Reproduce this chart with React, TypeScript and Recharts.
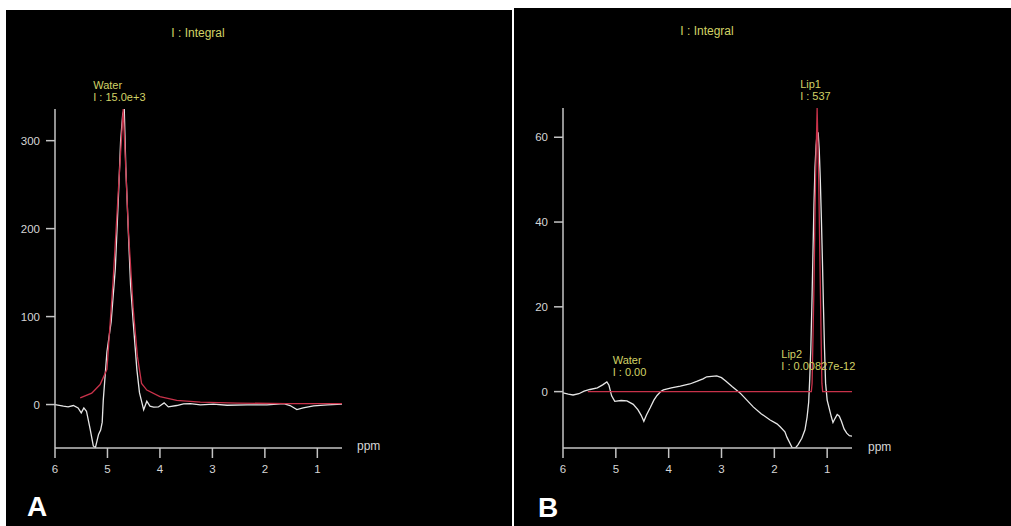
import React from 'react';
import { LineChart, Line, XAxis, YAxis, ReferenceDot, Label } from 'recharts';

// ---------- shared ----------
const ppmTicks = [6, 5, 4, 3, 2, 1];
const titleText = 'I : Integral';

// ---------- panel A ----------
const aYTicks = [0, 100, 200, 300];
const aSpecPpm = [6.0, 5.84, 5.75, 5.65, 5.56, 5.5, 5.45, 5.4, 5.33, 5.27, 5.23, 5.17, 5.13, 5.1, 5.08, 5.01, 4.93, 4.85, 4.79, 4.75, 4.71, 4.68, 4.65, 4.6, 4.56, 4.51, 4.44, 4.39, 4.31, 4.25, 4.19, 4.12, 4.03, 3.92, 3.84, 3.68, 3.55, 3.42, 3.23, 2.98, 2.72, 2.34, 1.96, 1.64, 1.52, 1.39, 1.27, 1.07, 0.81, 0.53];
const aSpecVal = [0, -1.9, -2.7, -1.1, -3.8, -9.5, -3.8, -7.6, -28, -47, -49, -34, -29, -20, 5, 60, 94, 155, 238, 299, 330, 336, 269, 193, 136, 94, 40, 13.5, -6, 3.8, -1.9, -3, -2.7, 1.9, -2.7, -1.1, 0.8, 1.1, -0.4, 0.4, -0.8, -0.4, -0.4, 1.1, -1.1, -5.7, -3.8, -1.5, -0.4, 0.4];
const aFitPpm = [5.52, 5.3, 5.14, 5.01, 4.89, 4.79, 4.7, 4.6, 4.51, 4.43, 4.35, 4.25, 4.0, 3.68, 3.23, 2.53, 1.58, 0.53];
const aFitVal = [7.5, 13, 22.7, 40, 143, 246, 336, 197, 109, 55, 24, 16.5, 9, 4.8, 2.8, 1.7, 1, 1];
const aPeak = { ppm: 4.7, value: 336, name: 'Water', integral: 'I : 15.0e+3' };

// ---------- panel B ----------
const bYTicks = [0, 20, 40, 60];
const bSpecPpm = [6.0, 5.9, 5.81, 5.7, 5.6, 5.49, 5.35, 5.25, 5.17, 5.13, 5.08, 5.02, 4.9, 4.79, 4.67, 4.58, 4.52, 4.47, 4.42, 4.35, 4.28, 4.22, 4.15, 4.1, 3.95, 3.78, 3.6, 3.47, 3.35, 3.28, 3.09, 3.0, 2.92, 2.8, 2.65, 2.52, 2.4, 2.25, 2.08, 1.95, 1.89, 1.8, 1.76, 1.7, 1.66, 1.6, 1.55, 1.48, 1.42, 1.38, 1.35, 1.33, 1.31, 1.29, 1.27, 1.25, 1.23, 1.21, 1.19, 1.17, 1.15, 1.13, 1.11, 1.09, 1.07, 1.05, 1.03, 1.0, 0.96, 0.92, 0.89, 0.85, 0.81, 0.77, 0.73, 0.68, 0.63, 0.58, 0.53];
const bSpecVal = [-0.3, -0.6, -0.8, -0.5, 0.1, 0.5, 0.9, 1.6, 2.3, 1.5, -1, -2.3, -2.1, -2.2, -3, -4.3, -5.6, -7, -5.5, -3.8, -2, -0.9, 0, 0.4, 0.9, 1.3, 1.8, 2.4, 3.0, 3.5, 3.7, 3.3, 2.5, 1.2, -0.3, -2.0, -3.6, -5.2, -6.7, -7.6, -8.3, -9.5, -10.8, -12.3, -13.3, -13.3, -12.5, -11, -9, -6, -2.5, 3, 10, 20, 32, 44, 53, 58, 61, 61, 57, 50, 41, 31, 20, 10, 2, -2, -4, -6, -7.3, -6.3, -5.4, -5.8, -7, -8.8, -9.8, -10.4, -10.5];
const bFitPpm = [5.53, 1.3, 1.285, 1.25, 1.22, 1.19, 1.16, 1.13, 1.1, 1.085, 0.53];
const bFitVal = [0, 0, 2, 25, 50, 66.9, 50, 25, 2, 0, 0];
const bLip1 = { ppm: 1.19, value: 66.9, name: 'Lip1', integral: 'I : 537' };
const bWater = { ppm: 4.7, value: 0, name: 'Water', integral: 'I : 0.00' };
const bLip2 = { ppm: 1.3, value: 0, name: 'Lip2', integral: 'I : 0.00827e-12' };

type Row = { ppm: number; spec?: number; fit?: number };

function mergeRows(sp: number[], sv: number[], fp: number[], fv: number[]): Row[] {
  const map = new Map<number, Row>();
  sp.forEach((p, i) => {
    const r = map.get(p) || { ppm: p };
    r.spec = sv[i];
    map.set(p, r);
  });
  fp.forEach((p, i) => {
    const r = map.get(p) || { ppm: p };
    r.fit = fv[i];
    map.set(p, r);
  });
  return Array.from(map.values()).sort((a, b) => b.ppm - a.ppm);
}

const aRows = mergeRows(aSpecPpm, aSpecVal, aFitPpm, aFitVal);
const bRows = mergeRows(bSpecPpm, bSpecVal, bFitPpm, bFitVal);

const FONT = '"Liberation Sans", Arial, Helvetica, sans-serif';
const AXIS = '#c4c4c4';
const TICKTXT = '#d6d6d6';
const YELLOW = '#d2d266';
const RED = '#c8324a';
const WHITE = '#e6e6e6';

function makePeakLabel(name: string, integral: string, dx: number, dy: number) {
  return (props: any) => {
    const vb = props.viewBox || {};
    const cx = (vb.x || 0) + (vb.width || 0) / 2;
    const cy = (vb.y || 0) + (vb.height || 0) / 2;
    return (
      <g>
        <text x={cx + dx} y={cy + dy} fill={YELLOW} fontSize={11} fontFamily={FONT}>{name}</text>
        <text x={cx + dx} y={cy + dy + 12} fill={YELLOW} fontSize={11} fontFamily={FONT}>{integral}</text>
      </g>
    );
  };
}

function Panel(props: {
  left: number; top: number; width: number; height: number;
  marginTop: number; marginRight: number;
  rows: Row[]; yDomain: [number, number]; yTicks: number[];
  xEnd: number;
  peaks: { ppm: number; value: number; name: string; integral: string; dx: number; dy: number }[];
  letter: string; titleX: number; titleY: number; ppmX: number; ppmY: number; letterX: number; letterY: number;
}) {
  const p = props;
  return (
    <div style={{ position: 'absolute', left: p.left, top: p.top, width: p.width, height: p.height, background: '#000', overflow: 'hidden' }}>
      <LineChart
        width={p.width}
        height={p.height}
        data={p.rows}
        margin={{ top: p.marginTop, right: p.marginRight, bottom: 0, left: 0 }}
      >
        <XAxis
          type="number"
          dataKey="ppm"
          domain={[p.xEnd, 6]}
          reversed
          allowDataOverflow
          ticks={ppmTicks}
          interval={0}
          height={78}
          tickSize={10}
          tickMargin={7}
          axisLine={{ stroke: AXIS, strokeWidth: 1.5 }}
          tickLine={{ stroke: AXIS, strokeWidth: 1.5 }}
          tick={{ fill: TICKTXT, fontSize: 11.5, fontFamily: FONT }}
        />
        <YAxis
          type="number"
          domain={p.yDomain}
          allowDataOverflow
          ticks={p.yTicks}
          interval={0}
          width={49}
          tickSize={9}
          tickMargin={6}
          axisLine={{ stroke: AXIS, strokeWidth: 1.5 }}
          tickLine={{ stroke: AXIS, strokeWidth: 1.5 }}
          tick={{ fill: TICKTXT, fontSize: 11.5, fontFamily: FONT }}
        />
        <Line type="linear" dataKey="spec" stroke={WHITE} strokeWidth={1.3} dot={false} connectNulls isAnimationActive={false} />
        <Line type="linear" dataKey="fit" stroke={RED} strokeWidth={1.3} dot={false} connectNulls isAnimationActive={false} />
        {p.peaks.map((pk, i) => (
          <ReferenceDot key={i} x={pk.ppm} y={pk.value} r={1} fill="none" stroke="none" ifOverflow="visible">
            <Label content={makePeakLabel(pk.name, pk.integral, pk.dx, pk.dy)} />
          </ReferenceDot>
        ))}
      </LineChart>
      <div style={{ position: 'absolute', left: p.titleX - 40, width: 80, top: p.titleY - 8, textAlign: 'center', color: YELLOW, fontFamily: FONT, fontSize: 12, lineHeight: '16px', whiteSpace: 'nowrap' }}>{titleText}</div>
      <div style={{ position: 'absolute', left: p.ppmX, top: p.ppmY - 8, color: TICKTXT, fontFamily: FONT, fontSize: 12, lineHeight: '16px' }}>ppm</div>
      <div style={{ position: 'absolute', left: p.letterX, top: p.letterY - 15, color: '#fff', fontFamily: FONT, fontWeight: 'bold', fontSize: 28, lineHeight: '30px' }}>{p.letter}</div>
    </div>
  );
}

export default function App() {
  return (
    <div style={{ position: 'absolute', left: 0, top: 0, width: 1011, height: 526, background: '#fff', overflow: 'hidden' }}>
      <Panel
        left={6} top={10} width={506} height={516}
        marginTop={99} marginRight={170}
        rows={aRows} yDomain={[-49.4, 336]} yTicks={aYTicks} xEnd={0.53}
        peaks={[{ ...aPeak, dx: -30, dy: -20 }]}
        letter="A" titleX={192} titleY={23} ppmX={351} ppmY={436} letterX={21} letterY={497}
      />
      <Panel
        left={514} top={8} width={497} height={518}
        marginTop={100} marginRight={159}
        rows={bRows} yDomain={[-13.3, 66.9]} yTicks={bYTicks} xEnd={0.53}
        peaks={[
          { ...bLip1, dx: -17, dy: -20 },
          { ...bWater, dx: -19, dy: -28 },
          { ...bLip2, dx: -30, dy: -34 },
        ]}
        letter="B" titleX={193} titleY={23} ppmX={354} ppmY={439} letterX={24} letterY={500}
      />
    </div>
  );
}
